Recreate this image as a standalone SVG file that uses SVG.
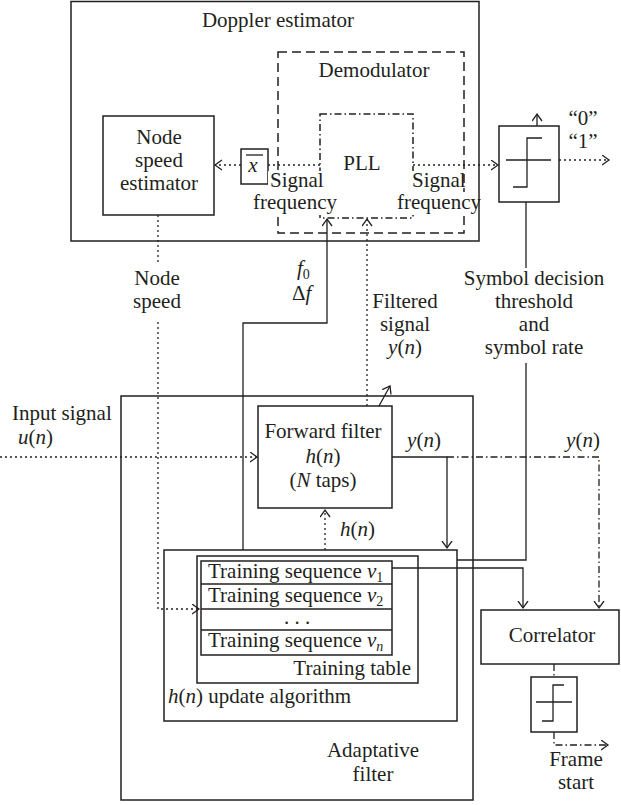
<svg xmlns="http://www.w3.org/2000/svg" width="621" height="805" viewBox="0 0 621 805">
<style>
.t{font-family:"Liberation Serif","DejaVu Serif",serif;font-size:21px;fill:#231f20}
.m{text-anchor:middle}
.e{text-anchor:end}
.i{font-style:italic}
.sub{font-size:14px}
.box{fill:none;stroke:#231f20;stroke-width:1.5}
.ln{fill:none;stroke:#231f20;stroke-width:1.3}
.dot{stroke-dasharray:2,3}
.dash{stroke-dasharray:9,5}
.dd{stroke-dasharray:7,3,1.5,3}
.bg{fill:#fff;stroke:none}
</style>
<defs>
<marker id="a" markerUnits="userSpaceOnUse" markerWidth="10" markerHeight="12" viewBox="0 0 10 12" refX="7.5" refY="5.5" orient="auto">
<path d="M0.5,0.5 L7.5,5.5 L0.5,10.5" fill="none" stroke="#231f20" stroke-width="1.3"/>
</marker>
</defs>
<rect width="621" height="805" fill="#fff"/>

<g id="doppler-estimator">
<rect class="box" x="71" y="1.5" width="408" height="239.5"/>
<text class="t m" x="278" y="27">Doppler estimator</text>
</g>
<g id="demodulator">
<rect class="box dash" x="278" y="52" width="186" height="181"/>
<text class="t m" x="374" y="77">Demodulator</text>
</g>
<g id="pll">
<rect class="box dd" x="320" y="114" width="93" height="104"/>
<text class="t m" x="362" y="170">PLL</text>
</g>
<g id="node-speed-estimator">
<rect class="box" x="103" y="116" width="111" height="99"/>
<text class="t m" x="159" y="144">Node</text>
<text class="t m" x="159" y="167">speed</text>
<text class="t m" x="159" y="190">estimator</text>
</g>
<g id="mean">
<rect class="box" x="241" y="149" width="27" height="35"/>
<text class="t m i" x="253" y="172">x</text>
<line class="ln" x1="246" y1="155" x2="263" y2="155" stroke-width="1.8"/>
</g>
<g id="symbol-decision">
<rect class="box" x="499" y="126" width="60" height="76"/>
<path class="ln" d="M506,160 H551 M513,187 H527 V138 H542"/>
</g>
<g id="adaptative-filter">
<rect class="box" x="121" y="396" width="352" height="404"/>
<text class="t m" x="373" y="757">Adaptative</text>
<text class="t m" x="373" y="781">filter</text>
</g>
<g id="forward-filter">
<rect class="box" x="258" y="406" width="134" height="102"/>
<text class="t m" x="323" y="438">Forward filter</text>
<text class="t m" x="323" y="463"><tspan class="i">h</tspan>(<tspan class="i">n</tspan>)</text>
<text class="t m" x="323" y="487">(<tspan class="i">N</tspan> taps)</text>
</g>
<g id="update-algorithm">
<rect class="box" x="164" y="550" width="293" height="171"/>
<text class="t" x="168" y="703"><tspan class="i">h</tspan>(<tspan class="i">n</tspan>) update algorithm</text>
</g>
<g id="training-table">
<rect class="box" x="197" y="556" width="221" height="127"/>
<rect class="box" x="201" y="561" width="191" height="94"/>
<path class="box" d="M201,584 H392 M201,609 H392 M201,630 H392"/>
<text class="t" x="208" y="578">Training sequence <tspan class="i">v</tspan><tspan class="sub" dy="4">1</tspan></text>
<text class="t" x="208" y="602">Training sequence <tspan class="i">v</tspan><tspan class="sub" dy="4">2</tspan></text>
<text class="t m" x="297" y="624">. . .</text>
<text class="t" x="208" y="647">Training sequence <tspan class="i">v</tspan><tspan class="sub i" dy="4" style="font-style:italic">n</tspan></text>
<text class="t e" x="411" y="675">Training table</text>
</g>
<g id="correlator">
<rect class="box" x="481" y="610" width="138" height="54"/>
<text class="t m" x="552" y="642">Correlator</text>
</g>
<g id="frame-decision">
<rect class="box" x="531" y="677" width="46" height="55"/>
<path class="ln" d="M536,702 H572 M542,721 H553 V685 H564"/>
</g>

<g id="connectors">
<path class="ln dot" d="M320,165 H268" />
<path class="ln dot" d="M241,165 H215" marker-end="url(#a)"/>
<path class="ln dot" d="M413,165 H498" marker-end="url(#a)"/>
<path class="ln dot" d="M559,160 H609" marker-end="url(#a)"/>
<path class="ln" d="M537,126 V114" marker-end="url(#a)"/>
<path class="ln" d="M526,202 V268 M526,363 V560 H457"/>
<path class="ln" d="M243,550 V323 H327 V219" marker-end="url(#a)"/>
<path class="ln dot" d="M367,406 V219" marker-end="url(#a)"/>
<path class="ln" d="M379,406 L390,386" marker-end="url(#a)"/>
<path class="ln dot" d="M158,215 V263 M158,322 V609 H199" marker-end="url(#a)"/>
<path class="ln dot" d="M0,457 H257" marker-end="url(#a)"/>
<path class="ln" d="M392,457 H447 V548" marker-end="url(#a)"/>
<path class="ln dd" d="M447,457 H599 V608" marker-end="url(#a)"/>
<path class="ln dot" d="M325,550 V510" marker-end="url(#a)"/>
<path class="ln" d="M392,568 H523 V608" marker-end="url(#a)"/>
<path class="ln dd" d="M554,664 V677"/>
<path class="ln dd" d="M554,732 V745 H608" marker-end="url(#a)"/>
</g>

<g id="labels">
<rect class="bg" x="268" y="171" width="54" height="21"/>
<rect class="bg" x="252" y="192" width="87" height="23"/>
<rect class="bg" x="410" y="171" width="53" height="21"/>
<rect class="bg" x="396" y="192" width="82" height="23"/>
<text class="t" x="270" y="187">Signal</text>
<text class="t" x="253" y="209">frequency</text>
<text class="t" x="412" y="187">Signal</text>
<text class="t" x="397" y="209">frequency</text>
<text class="t m" x="583" y="125">“0”</text>
<text class="t m" x="583" y="148">“1”</text>
<text class="t m" x="157" y="285">Node</text>
<text class="t m" x="157" y="308">speed</text>
<text class="t" x="297" y="275"><tspan class="i">f</tspan><tspan class="sub" dy="4">0</tspan></text>
<text class="t" x="292" y="300">Δ<tspan class="i">f</tspan></text>
<text class="t m" x="405" y="308">Filtered</text>
<text class="t m" x="405" y="331">signal</text>
<text class="t m" x="405" y="354"><tspan class="i">y</tspan>(<tspan class="i">n</tspan>)</text>
<text class="t m" x="534" y="285">Symbol decision</text>
<text class="t m" x="534" y="308">threshold</text>
<text class="t m" x="534" y="331">and</text>
<text class="t m" x="534" y="354">symbol rate</text>
<text class="t" x="12" y="420">Input signal</text>
<text class="t" x="18" y="444"><tspan class="i">u</tspan>(<tspan class="i">n</tspan>)</text>
<text class="t m" x="424" y="447"><tspan class="i">y</tspan>(<tspan class="i">n</tspan>)</text>
<text class="t m" x="583" y="447"><tspan class="i">y</tspan>(<tspan class="i">n</tspan>)</text>
<text class="t" x="340" y="536"><tspan class="i">h</tspan>(<tspan class="i">n</tspan>)</text>
<text class="t m" x="576" y="766">Frame</text>
<text class="t m" x="576" y="789">start</text>
</g>
</svg>
